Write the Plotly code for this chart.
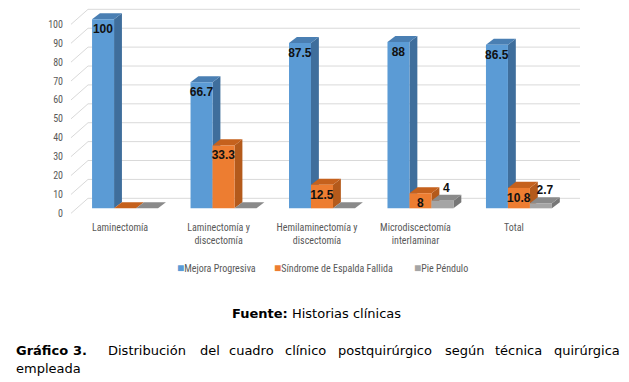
import plotly.graph_objects as go

# ---------------- data ----------------
categories = ["Laminectomía", "Laminectomía y<br>discectomía", "Hemilaminectomía y<br>discectomía",
              "Microdiscectomía<br>interlaminar", "Total"]
series_names = ["Mejora Progresiva", "Síndrome de Espalda Fallida", "Pie Péndulo"]
mejora = [100, 66.7, 87.5, 88, 86.5]
sindrome = [0, 33.3, 12.5, 8, 10.8]
pie = [0, 0, 0, 4, 2.7]
y_ticks = [0, 10, 20, 30, 40, 50, 60, 70, 80, 90, 100]

# ---------------- style ----------------
W, H = 629, 382
ML, MR, MT, MB = 64, 49, 8, 168
XR = [-0.62, 4.62]
YR = [-3, 106]
front_cols = ["#5B9BD5", "#ED7D31", "#A5A5A5"]
side_cols = ["#3F6E9C", "#B45A1B", "#777777"]
top_cols = ["#4A7FB3", "#C5611D", "#8A8A8A"]
BARGAP = 0.33
DX, DY = 0.08, 3.2          # 3-D depth of bars (data units)
WALL_FRONT_DY, WALL_BACK_DY = -2.65, 5.3
WALL_FRONT_X, WALL_BACK_X = -0.549, -0.376
narrow = "Liberation Sans Narrow, Arial Narrow, Roboto Condensed, Roboto, sans-serif"
cap_font = "Verdana, DejaVu Sans, sans-serif"
lbl_font = dict(family="Liberation Sans, Arial, sans-serif", size=12, color="#111111", weight="bold")

pw, ph = W - ML - MR, H - MT - MB
def px2x(px):
    return (px - ML) / pw
def px2y(py):
    return (H - MB - py) / ph

xs = list(range(len(categories)))
series = [mejora, sindrome, pie]
bw = (1 - BARGAP) / 3

def fmt(v):
    return "" if v == 0 else (str(int(v)) if float(v).is_integer() else str(v))

fig = go.Figure()

for i, (name, vals) in enumerate(zip(series_names, series)):
    fig.add_trace(go.Bar(
        x=xs, y=vals, name=name,
        marker=dict(color=front_cols[i], line=dict(width=0)),
        text=[fmt(v) for v in vals] if i < 2 else None,
        textposition="inside", insidetextanchor="end", constraintext="none", textangle=0,
        textfont=lbl_font, cliponaxis=False, showlegend=False,
    ))

# labels above the grey (3-D) bars
off_g = -(1 - BARGAP) / 2 + 2.5 * bw
fig.add_trace(go.Scatter(
    x=[g + off_g + DX / 2 for g in xs], y=[v + DY for v in pie],
    text=[fmt(v) for v in pie], mode="text", textposition="top center",
    textfont=lbl_font, showlegend=False, cliponaxis=False, hoverinfo="skip",
))

# 3-D faces derived from the data
shapes = []
for i, vals in enumerate(series):
    off = -(1 - BARGAP) / 2 + (i + 0.5) * bw
    for g, v in zip(xs, vals):
        xl = g + off - bw / 2
        xr = g + off + bw / 2
        shapes.append(dict(type="path", xref="x", yref="y", layer="between",
                           path=f"M {xr},0 L {xr},{v} L {xr+DX},{v+DY} L {xr+DX},{DY} Z",
                           fillcolor=side_cols[i], line=dict(width=0)))
        shapes.append(dict(type="path", xref="x", yref="y", layer="between",
                           path=f"M {xl},{v} L {xr},{v} L {xr+DX},{v+DY} L {xl+DX},{v+DY} Z",
                           fillcolor=top_cols[i], line=dict(width=0)))

# back-wall gridlines and side-wall lines
for t in y_ticks:
    shapes.append(dict(type="line", xref="x", yref="y", layer="below",
                       x0=WALL_BACK_X, x1=XR[1], y0=t + WALL_BACK_DY, y1=t + WALL_BACK_DY,
                       line=dict(color="#D9D9D9", width=1)))
    shapes.append(dict(type="line", xref="x", yref="y", layer="below",
                       x0=WALL_FRONT_X, x1=WALL_BACK_X, y0=t + WALL_FRONT_DY, y1=t + WALL_BACK_DY,
                       line=dict(color="#D9D9D9", width=1)))

annotations = []
# legend (square swatch + name)
legend_x = [175, 272, 412]
for name, col, lx in zip(series_names, front_cols, legend_x):
    annotations.append(dict(
        text=f'<span style="color:{col};font-size:12px">■</span>{name}',
        x=px2x(lx), y=px2y(268), xanchor="left", yanchor="middle",
        font=dict(family=narrow, size=10, color="#595959")))

cap = []
cap.append(dict(text="<b>Fuente:</b> Historias clínicas", x=px2x(316), y=px2y(313),
                xanchor="center", yanchor="middle"))
cap.append(dict(text="empleada", x=px2x(14), y=px2y(368), xanchor="left", yanchor="middle"))
caption_words = ["<b>Gráfico</b>", "<b>3.</b>", "Distribución", "del", "cuadro", "clínico",
                 "postquirúrgico", "según", "técnica", "quirúrgica"]
caption_x = [14, 71, 106, 198, 227, 283, 336, 443, 493, 552]
for wd, cx in zip(caption_words, caption_x):
    cap.append(dict(text=wd, x=px2x(cx), y=px2y(350), xanchor="left", yanchor="middle"))
for a in cap:
    a["font"] = dict(family=cap_font, size=13, color="#000000")
annotations += cap
for a in annotations:
    a.update(xref="paper", yref="paper", showarrow=False)

fig.update_layout(
    width=W, height=H,
    margin=dict(l=ML, r=MR, t=MT, b=MB, pad=0, autoexpand=False),
    paper_bgcolor="white", plot_bgcolor="white",
    barmode="group", bargap=BARGAP, bargroupgap=0,
    shapes=shapes, annotations=annotations,
    showlegend=False,
    xaxis=dict(range=XR, tickmode="array", tickvals=xs, ticktext=categories,
               showgrid=False, zeroline=False, showline=False, ticks="",
               tickfont=dict(family=narrow, size=10, color="#595959"),
               ticklabelshift=-5, ticklabelstandoff=6),
    yaxis=dict(range=YR, tickmode="array", tickvals=[t + WALL_FRONT_DY for t in y_ticks],
               ticktext=[str(t) for t in y_ticks], showgrid=False, zeroline=False,
               showline=False, ticks="", tickfont=dict(family=narrow, size=10, color="#595959")),
)

fig.write_html("out.html", config={"displayModeBar": False},
               post_script="document.body.style.margin='0';document.body.style.padding='0';")
